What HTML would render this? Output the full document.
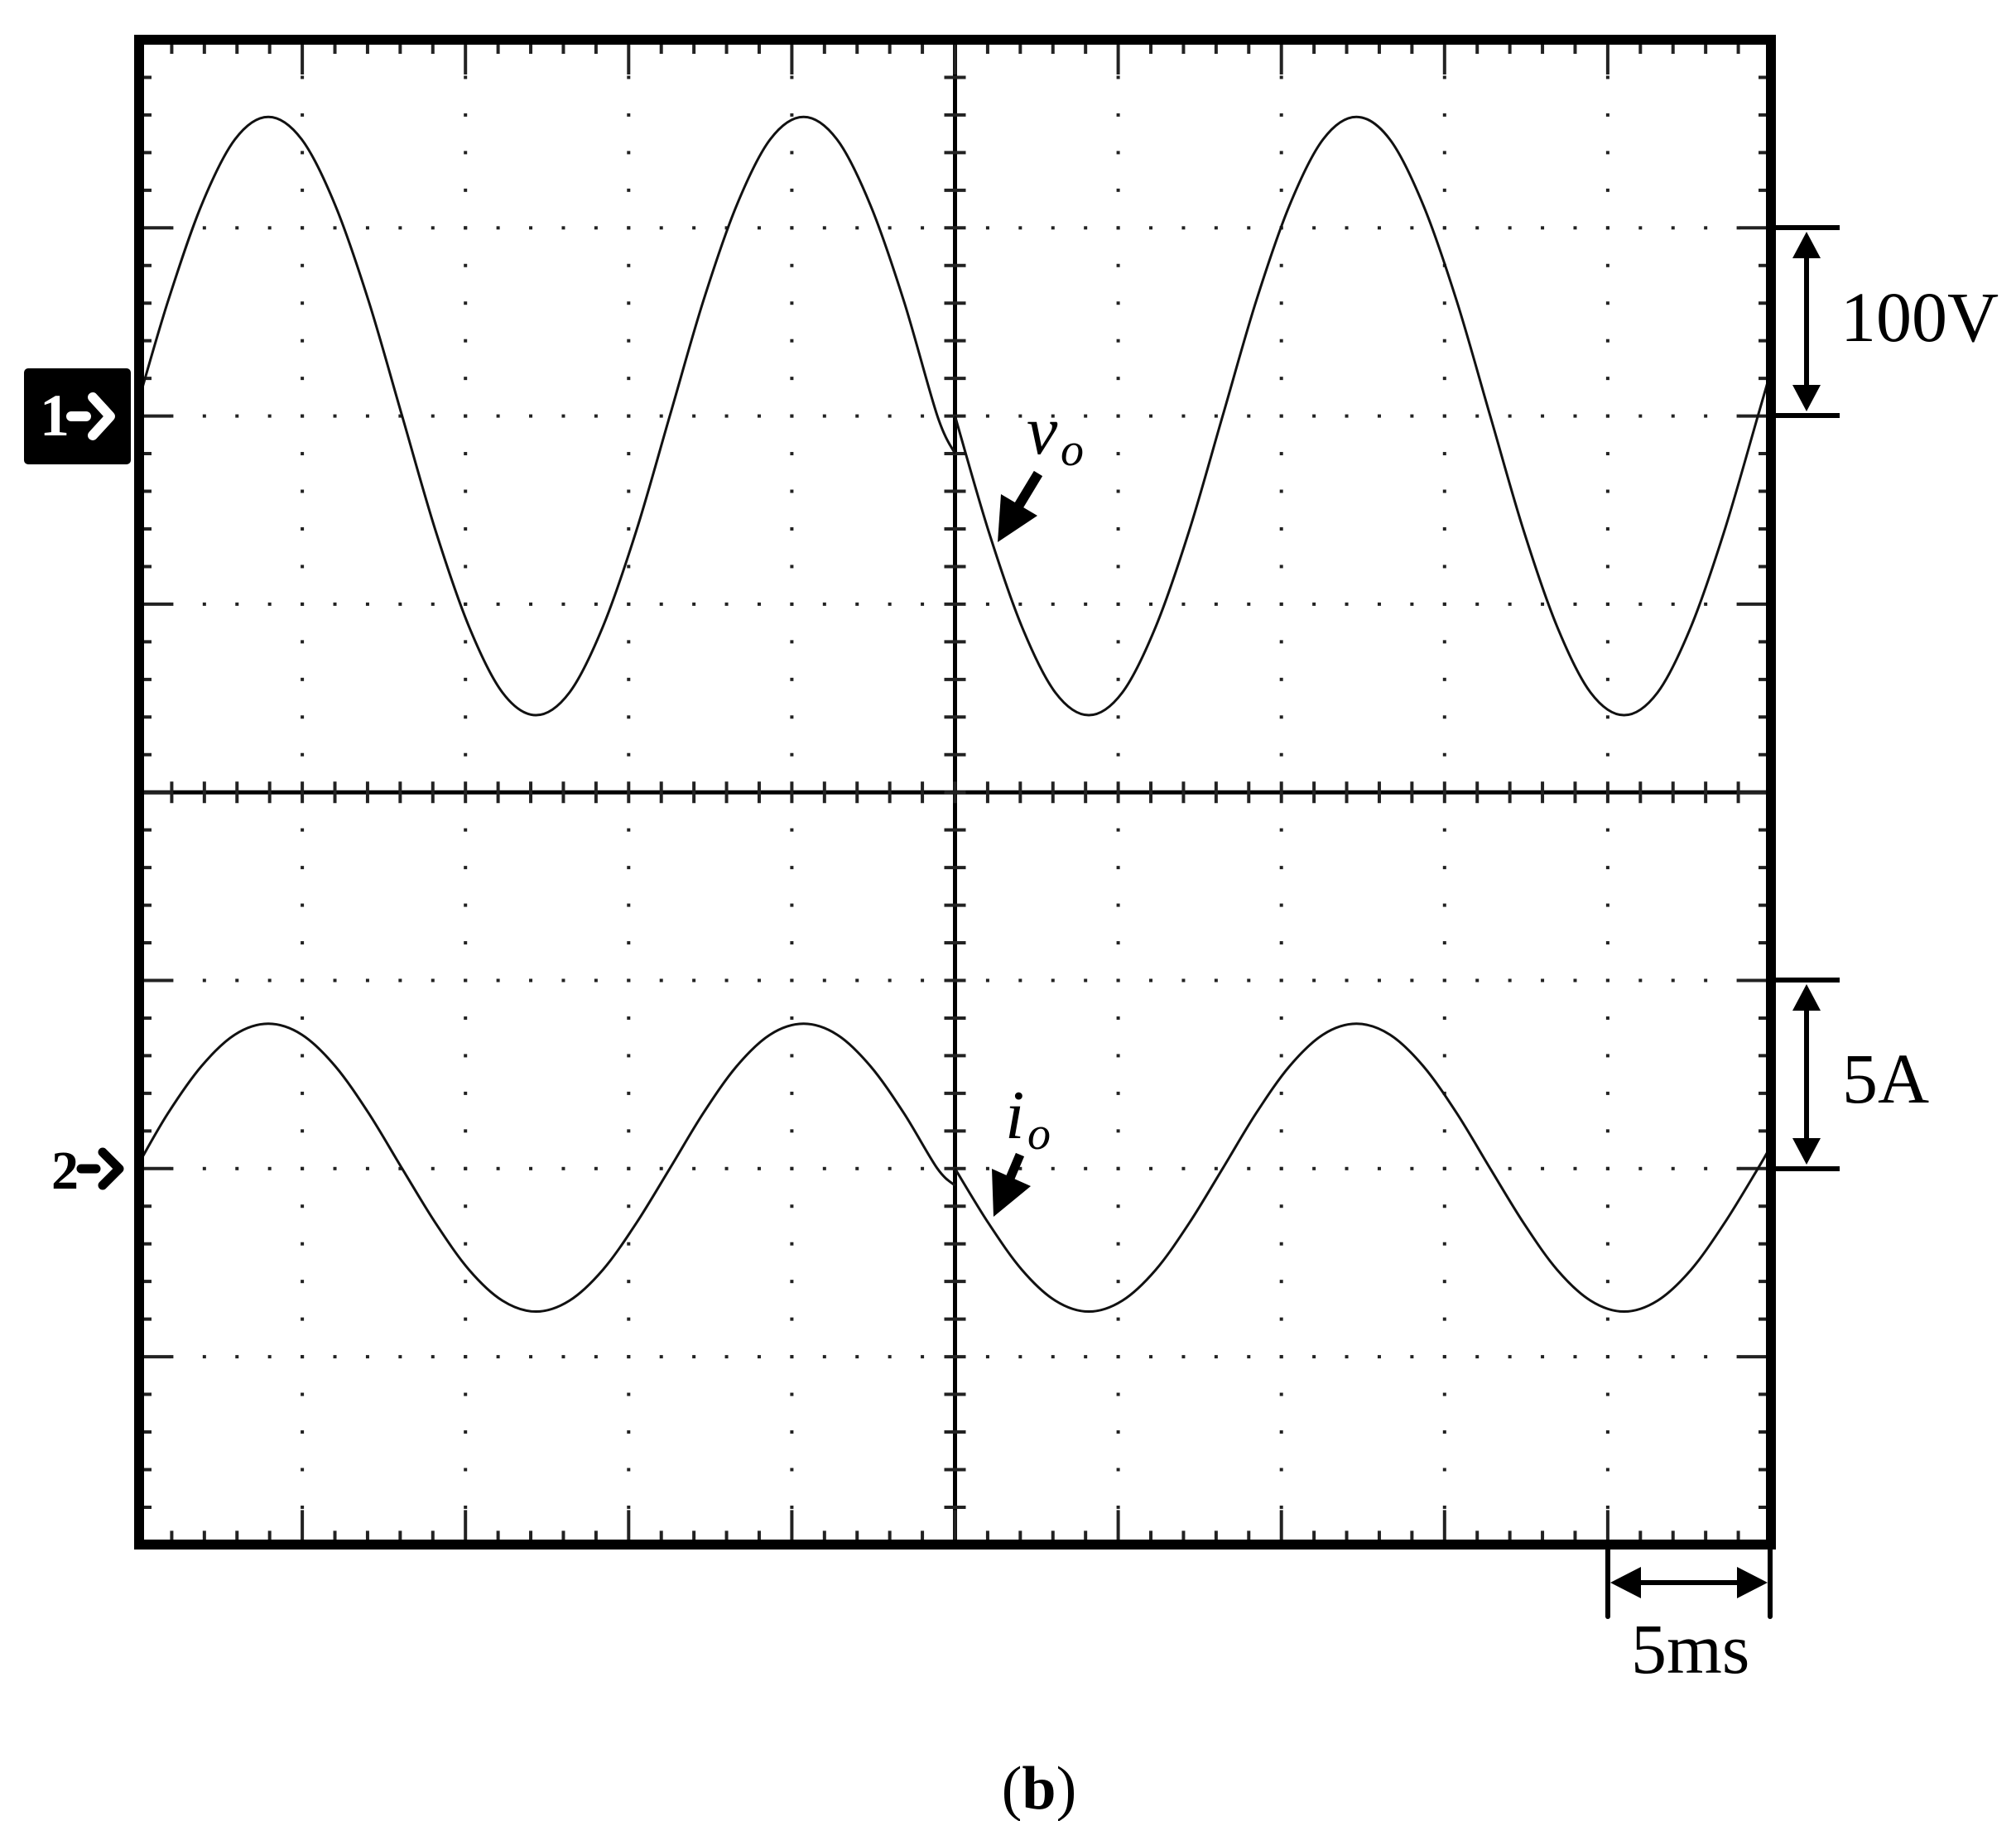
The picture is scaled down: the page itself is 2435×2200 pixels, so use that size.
<!DOCTYPE html>
<html><head><meta charset="utf-8">
<style>
html,body{margin:0;padding:0;background:#fff;}
svg{display:block;}
text{font-family:"Liberation Serif",serif;}
</style></head>
<body>
<svg id="chart" width="2435" height="2200" viewBox="0 0 2435 2200" xmlns="http://www.w3.org/2000/svg">
<g id="grid"></g>
<g id="traces"></g>
<rect x="168" y="48" width="1971" height="1818" fill="none" stroke="#000" stroke-width="12"/>
<g>
<rect x="29" y="445" width="129" height="116" rx="5" fill="#000"/>
<text x="48" y="526" font-size="72" font-weight="bold" fill="#fff">1</text>
<path d="M86 503 L104 503 M112 480 L133 503 L112 526" stroke="#fff" stroke-width="12" stroke-linecap="round" stroke-linejoin="round" fill="none"/>
</g>
<g>
<text x="62" y="1436" font-size="66" font-weight="bold" fill="#000">2</text>
<path d="M98 1412 L116 1412 M124 1392 L144 1412 L124 1432" stroke="#000" stroke-width="11" stroke-linecap="round" stroke-linejoin="round" fill="none"/>
</g>
<g stroke="#000" stroke-width="6">
<line x1="2139" y1="275" x2="2222" y2="275"/><line x1="2139" y1="502" x2="2222" y2="502"/>
<line x1="2182" y1="310" x2="2182" y2="466"/>
<polygon points="2182,280 2165,312 2199,312" stroke="none" fill="#000"/>
<polygon points="2182,497 2165,465 2199,465" stroke="none" fill="#000"/>
</g>
<text x="2223" y="412" font-size="86">100V</text>
<g stroke="#000" stroke-width="6">
<line x1="2139" y1="1184" x2="2222" y2="1184"/><line x1="2139" y1="1412" x2="2222" y2="1412"/>
<line x1="2182" y1="1219" x2="2182" y2="1376"/>
<polygon points="2182,1189 2165,1221 2199,1221" stroke="none" fill="#000"/>
<polygon points="2182,1407 2165,1375 2199,1375" stroke="none" fill="#000"/>
</g>
<text x="2225" y="1332" font-size="86">5A</text>
<g stroke="#000" stroke-width="6">
<line x1="1942" y1="1870" x2="1942" y2="1953" stroke-linecap="round"/><line x1="2138" y1="1870" x2="2138" y2="1953" stroke-linecap="round"/>
<line x1="1975" y1="1912" x2="2105" y2="1912"/>
<polygon points="1945,1912 1982,1893 1982,1931" stroke="none" fill="#000"/>
<polygon points="2135,1912 2098,1893 2098,1931" stroke="none" fill="#000"/>
</g>
<text x="1970" y="2021" font-size="86">5ms</text>
<g>
<text x="1240" y="548" font-size="84" font-style="italic">v</text>
<text x="1281" y="562" font-size="56" font-style="italic">o</text>
<line x1="1254" y1="572" x2="1225" y2="620" stroke="#000" stroke-width="12"/>
<polygon points="1205,655 1209,597 1253,623" fill="#000"/>
</g>
<g>
<text x="1214" y="1375" font-size="84" font-style="italic">i</text>
<text x="1241" y="1388" font-size="56" font-style="italic">o</text>
<line x1="1232" y1="1395" x2="1213" y2="1440" stroke="#000" stroke-width="11"/>
<polygon points="1200,1470 1198,1412 1245,1433" fill="#000"/>
</g>
<text x="1255" y="2185" font-size="74" text-anchor="middle">(<tspan font-weight="bold">b</tspan>)</text>
</svg>
<script>
// time in ms (5 ms/div), values
const vLeftT = [0, 0.885, 1.91, 2.935, 3.96, 4.985, 6.01, 7.035, 8.06, 9.085, 10.11, 11.135, 12.16, 13.185, 14.21, 15.235, 16.26, 17.285, 18.31, 19.335, 20.36, 21.385, 22.41, 23.435, 24.46, 25];
const vLeftV = [9, 61, 112, 147, 159, 147, 112, 61, 0, -61, -112, -147, -159, -147, -112, -61, 0, 61, 112, 147, 159, 147, 112, 61, 0, -20];
const vRightT = [25, 26.025, 27.05, 28.075, 29.1, 30.125, 31.15, 32.175, 33.2, 34.225, 35.25, 36.275, 37.3, 38.325, 39.35, 40.375, 41.4, 42.425, 43.45, 44.475, 45.5, 46.525, 47.55, 48.575, 49.6, 50];
const vRightV = [0, -61, -112, -147, -159, -147, -112, -61, 0, 61, 112, 147, 159, 147, 112, 61, 0, -61, -112, -147, -159, -147, -112, -61, 0, 24];
const iLeftT = [0, 0.885, 1.91, 2.935, 3.96, 4.985, 6.01, 7.035, 8.06, 9.085, 10.11, 11.135, 12.16, 13.185, 14.21, 15.235, 16.26, 17.285, 18.31, 19.335, 20.36, 21.385, 22.41, 23.435, 24.46, 25];
const iLeftV = [0.15, 1.47, 2.72, 3.56, 3.85, 3.56, 2.72, 1.47, 0, -1.45, -2.69, -3.51, -3.8, -3.51, -2.69, -1.45, 0, 1.47, 2.72, 3.56, 3.85, 3.56, 2.72, 1.47, 0, -0.45];
const iRightT = [25, 26.025, 27.05, 28.075, 29.1, 30.125, 31.15, 32.175, 33.2, 34.225, 35.25, 36.275, 37.3, 38.325, 39.35, 40.375, 41.4, 42.425, 43.45, 44.475, 45.5, 46.525, 47.55, 48.575, 49.6, 50];
const iRightV = [0, -1.45, -2.69, -3.51, -3.8, -3.51, -2.69, -1.45, 0, 1.47, 2.72, 3.56, 3.85, 3.56, 2.72, 1.47, 0, -1.45, -2.69, -3.51, -3.8, -3.51, -2.69, -1.45, 0, 0.6];

const X0 = 168, DX = 197.1, Y0 = 48, DY = 227.3;
const xs = t => X0 + (t / 5) * DX;
const yV = v => (Y0 + 2 * DY) - (v / 100) * DY;
const yI = a => (Y0 + 6 * DY) - (a / 5) * DY;
const NS = 'http://www.w3.org/2000/svg';
const grid = document.getElementById('grid');
const traces = document.getElementById('traces');

function mk(tag, attrs, parent) {
  const e = document.createElementNS(NS, tag);
  for (const k in attrs) e.setAttribute(k, attrs[k]);
  parent.appendChild(e);
  return e;
}
for (let k = 1; k < 10; k++) {
  if (k === 5) continue;
  const x = X0 + k * DX;
  for (let m = 1; m < 40; m++) {
    const d = mk('rect', {x: x - 2, y: Y0 + m * DY / 5 - 2, width: 4, height: 4, fill: '#222'}, grid);
    
    
  }
}
for (let k = 1; k < 8; k++) {
  if (k === 4) continue;
  const y = Y0 + k * DY;
  for (let m = 1; m < 50; m++) {
    const d = mk('rect', {x: X0 + m * DX / 5 - 2, y: y - 2, width: 4, height: 4, fill: '#222'}, grid);
    
    
  }
}
const cx = X0 + 5 * DX, cy = Y0 + 4 * DY;
let l = mk('line', {x1: cx, y1: Y0, x2: cx, y2: Y0 + 8 * DY, stroke: '#000', 'stroke-width': 5}, grid);


l = mk('line', {x1: X0, y1: cy, x2: X0 + 10 * DX, y2: cy, stroke: '#000', 'stroke-width': 5}, grid);


let tp = '';
for (let m = 1; m < 50; m++) {
  const x = X0 + m * DX / 5, major = m % 5 === 0;
  const len = major ? 42 : 17;
  tp += `M${x} ${Y0} v${len} M${x} ${Y0 + 8 * DY} v${-len} `;
  tp += `M${x} ${cy - 13} v26 `;
}
for (let m = 1; m < 40; m++) {
  const y = Y0 + m * DY / 5, major = m % 5 === 0;
  const len = major ? 38 : 15;
  tp += `M${X0} ${y} h${len} M${X0 + 10 * DX} ${y} h${-len} `;
  tp += `M${cx - 13} ${y} h26 `;
}
const ticks = mk('path', {d: tp, stroke: '#222', 'stroke-width': 4, fill: 'none'}, grid);



function spline(T, V, fy) {
  const p = T.map((t, i) => [xs(t), fy(V[i])]);
  let d = `M${p[0][0]} ${p[0][1]}`;
  for (let i = 0; i < p.length - 1; i++) {
    const a = p[Math.max(0, i - 1)], b = p[i], c = p[i + 1], e = p[Math.min(p.length - 1, i + 2)];
    const c1 = [b[0] + (c[0] - a[0]) / 6, b[1] + (c[1] - a[1]) / 6];
    const c2 = [c[0] - (e[0] - b[0]) / 6, c[1] - (e[1] - b[1]) / 6];
    d += ` C${c1[0]} ${c1[1]} ${c2[0]} ${c2[1]} ${c[0]} ${c[1]}`;
  }
  return d;
}
const series = [
  ['voltage-trace-left', vLeftT, vLeftV, yV],
  ['voltage-trace-right', vRightT, vRightV, yV],
  ['current-trace-left', iLeftT, iLeftV, yI],
  ['current-trace-right', iRightT, iRightV, yI]
];
for (const s of series) {
  const pth = mk('path', {d: spline(s[1], s[2], s[3]), stroke: '#111', 'stroke-width': 3, fill: 'none'}, traces);
  
  
}
</script>
</body></html>
